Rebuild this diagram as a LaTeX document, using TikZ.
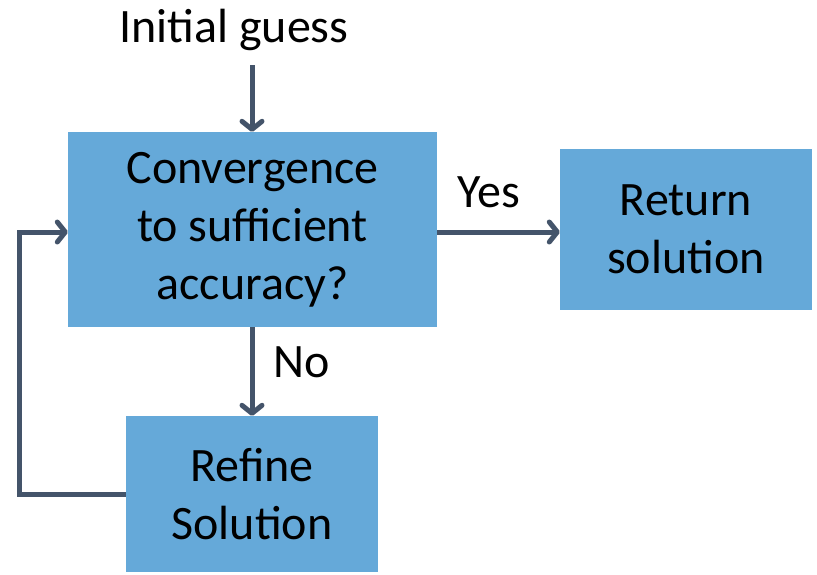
\documentclass[tikz,border=0pt]{standalone}
\usepackage{fontspec}
\setmainfont{Carlito}
\usetikzlibrary{arrows.meta}
\definecolor{boxblue}{HTML}{65A9D9}
\definecolor{flowgray}{HTML}{44546A}

\begin{document}
\begin{tikzpicture}[x=1pt, y=-1pt,
  stepbox/.style={fill=boxblue, draw=none, align=center, font=\fontsize{48}{58}\selectfont},
  flow/.style={draw=flowgray, line width=5pt, -{Straight Barb[round, length=8pt, width=20pt]}},
  lbl/.style={font=\fontsize{48}{58}\selectfont}]
  \useasboundingbox (0,0) rectangle (817,574);

  % start text and the test box
  \node[lbl] (init) at (234,30) {Initial guess};
  \coordinate (initend) at (252,65);
  \node[stepbox, minimum width=369pt, minimum height=195pt] (conv) at (252.5,229.5)
    {Convergence\\to sufficient\\accuracy?};

  % the two outcomes
  \node[stepbox, minimum width=252pt, minimum height=161pt] (ret) at (686,229.5)
    {Return\\solution};
  \node[stepbox, minimum width=252pt, minimum height=156pt] (refine) at (252,494)
    {Refine\\Solution};

  % arrows
  \draw[flow] (initend) -- (initend |- conv.north);
  \draw[flow] (conv.east |- 0,232) -- (ret.west |- 0,232);
  \draw[flow] (conv.south -| initend) -- (initend |- refine.north);
  \draw[flow] (refine.west) -- ++(-106,0) |- (conv.west |- 0,232);

  % branch labels
  \node[lbl] (yes) at (489,192) {Yes};
  \node[lbl] (no) at (302,362) {No};
\end{tikzpicture}
\end{document}
